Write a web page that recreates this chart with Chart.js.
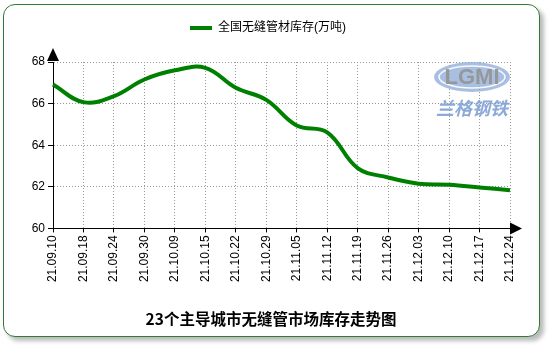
<!DOCTYPE html>
<html>
<head>
<meta charset="utf-8">
<script src="https://cdn.jsdelivr.net/npm/chart.js@4.4.0/dist/chart.umd.min.js"></script>
<style>
  html, body { margin: 0; padding: 0; background: #fff; }
  #frame {
    position: absolute; left: 3px; top: 4px; width: 535px; height: 331px;
    border: 1px solid #2e7d32; border-radius: 12px;
    box-shadow: 4px 4px 4px #bbb; background: #fff;
  }
  #sensor { position: absolute; left: 0; top: 0; }
</style>
</head>
<body>
<div id="frame"></div>
<canvas id="sensor" width="550" height="350"></canvas>
<script>
// Data
const dates = ["21.09.10", "21.09.18", "21.09.24", "21.09.30", "21.10.09", "21.10.15", "21.10.22", "21.10.29",
  "21.11.05", "21.11.12", "21.11.19", "21.11.26", "21.12.03", "21.12.10", "21.12.17", "21.12.24"];
const stock = [66.92, 66.07, 66.36, 67.16, 67.6, 67.72, 66.76, 66.18,
  64.95, 64.62, 62.9, 62.45, 62.15, 62.1, 61.97, 61.83];
const yTicks = [60, 62, 64, 66, 68];

const FONT = "Arial, 'Liberation Sans', 'Noto Sans CJK SC', sans-serif";

// legend gets extra room below it
const legendSpace = {
  id: "legendSpace",
  beforeInit(chart) {
    const fit = chart.legend.fit;
    chart.legend.fit = function () {
      fit.call(this);
      this.height += 18;
    };
  },
  // centre legend and title on the whole frame, not just the left part
  afterLayout(chart) {
    chart.legend.left += 13;
    chart.legend.right += 13;
    chart.titleBlock.left += 16;
    chart.titleBlock.right += 16;
  }
};

// axis arrows + watermark
const decor = {
  id: "decor",
  beforeDatasetsDraw(chart) {
    const c = chart.ctx;
    const a = chart.chartArea;
    c.save();
    const cx = a.right - 38, cy = a.top + 15;
    c.fillStyle = "rgba(140,170,215,0.75)";
    c.beginPath();
    c.ellipse(cx, cy, 38, 15, 0, 0, Math.PI * 2);
    c.fill();
    c.strokeStyle = "rgba(255,255,255,0.9)";
    c.lineWidth = 1.5;
    c.beginPath();
    c.ellipse(cx, cy, 33, 11, 0, 0, Math.PI * 2);
    c.stroke();
    c.font = "bold 22px " + FONT;
    c.textAlign = "center";
    c.textBaseline = "middle";
    c.fillStyle = "rgba(150,150,150,0.95)";
    c.fillText("LGMI", cx, cy + 1);
    c.font = "italic bold 18px 'Noto Sans CJK SC', sans-serif";
    c.fillStyle = "rgba(120,155,210,0.85)";
    c.fillText("兰格钢铁", cx, cy + 31);
    c.restore();
  },
  afterDraw(chart) {
    const c = chart.ctx;
    const a = chart.chartArea;
    c.save();
    c.fillStyle = "#000";
    c.beginPath();
    c.moveTo(a.left, a.top - 14);
    c.lineTo(a.left - 6, a.top - 1);
    c.lineTo(a.left + 6, a.top - 1);
    c.closePath();
    c.fill();
    c.beginPath();
    c.moveTo(a.right + 12, a.bottom);
    c.lineTo(a.right, a.bottom - 6);
    c.lineTo(a.right, a.bottom + 6);
    c.closePath();
    c.fill();
    c.restore();
  }
};

const ctx = document.getElementById("sensor").getContext("2d");
const chart = new Chart(ctx, {
  type: "line",
  data: {
    labels: dates,
    datasets: [
      { label: "全国无缝管材库存(万吨)", data: stock, borderColor: "#008000", backgroundColor: "#008000",
        borderWidth: 4, tension: 0.4, pointRadius: 0, pointStyle: "line", fill: false }
    ]
  },
  options: {
    responsive: false,
    animation: false,
    layout: { padding: { left: 0, right: 40, top: 12, bottom: 22 } },
    plugins: {
      legend: {
        position: "top",
        labels: { usePointStyle: true, pointStyleWidth: 22, boxHeight: 4, color: "#000",
          font: { family: FONT, size: 12 } }
      },
      title: {
        display: true, position: "bottom", text: "23个主导城市无缝管市场库存走势图",
        color: "#000", padding: 0,
        font: { family: "'Noto Sans CJK SC', sans-serif", size: 15.5, weight: "bold" }
      },
      tooltip: { enabled: false }
    },
    scales: {
      x: {
        offset: false,
        afterFit(scale) { scale.height = 81; },
        border: { color: "#000", width: 1, dash: [1, 2] },
        grid: { color: "#999", tickColor: "#000", tickBorderDash: [], tickLength: 4 },
        ticks: { minRotation: 90, maxRotation: 90, autoSkip: false, padding: 3, color: "#000",
          font: { family: FONT, size: 12 } }
      },
      y: {
        min: 60, max: 68,
        afterFit(scale) { scale.width = 53; },
        afterBuildTicks(scale) { scale.ticks = yTicks.map(v => ({ value: v })); },
        border: { color: "#000", width: 1, dash: [1, 2] },
        grid: { color: "#999", tickColor: "#000", tickBorderDash: [], tickLength: 5 },
        ticks: { padding: 3, color: "#000", font: { family: FONT, size: 12 } }
      }
    }
  },
  plugins: [legendSpace, decor]
});
</script>
</body>
</html>
